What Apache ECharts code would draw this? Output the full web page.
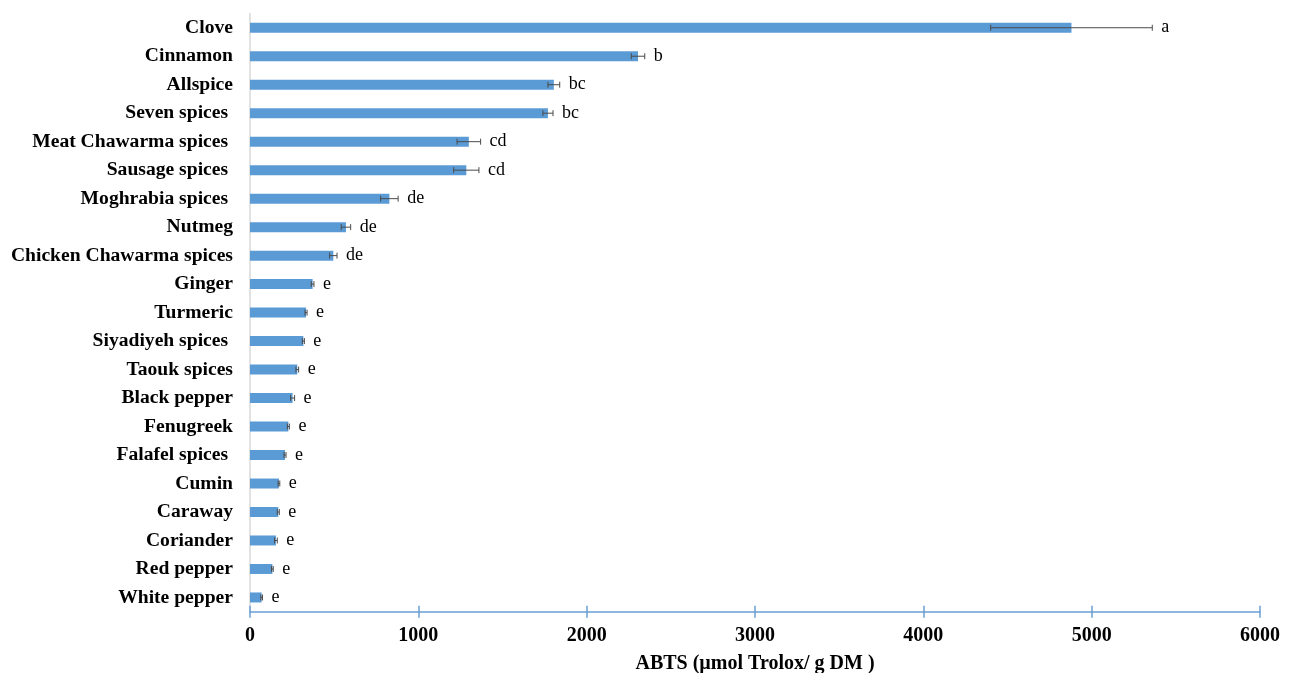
<!DOCTYPE html>
<html>
<head>
<meta charset="utf-8">
<script src="https://cdn.jsdelivr.net/npm/echarts@6/dist/echarts.min.js"></script>
<style>
  html, body { margin: 0; padding: 0; background: #fff; }
  #chart { width: 1289px; height: 673px; }
</style>
</head>
<body>
<div id="chart"></div>
<script>
// Spice names, top to bottom
const categories = [
  'Clove', 'Cinnamon', 'Allspice', 'Seven spices ', 'Meat Chawarma spices ',
  'Sausage spices ', 'Moghrabia spices ', 'Nutmeg', 'Chicken Chawarma spices',
  'Ginger', 'Turmeric', 'Siyadiyeh spices ', 'Taouk spices', 'Black pepper',
  'Fenugreek', 'Falafel spices ', 'Cumin', 'Caraway', 'Coriander',
  'Red pepper', 'White pepper'
];
// ABTS mean values (µmol Trolox / g DM)
const abtsMean = [
  4880, 2305, 1805, 1770, 1300, 1285, 828, 570, 495,
  372, 333, 317, 281, 253, 228, 208, 172, 168, 154, 133, 69
];
// Standard deviations
const abtsSd = [
  480, 40, 35, 30, 70, 75, 52, 28, 22,
  8, 6, 6, 8, 12, 6, 6, 5, 6, 8, 5, 5
];
// Significance letters
const groupLetters = [
  'a', 'b', 'bc', 'bc', 'cd', 'cd', 'de', 'de', 'de',
  'e', 'e', 'e', 'e', 'e', 'e', 'e', 'e', 'e', 'e', 'e', 'e'
];
// Value axis ticks
const xMin = 0, xMax = 6000, xStep = 1000;

const serif = '"Liberation Serif", "Times New Roman", serif';
const chart = echarts.init(document.getElementById('chart'), null, { renderer: 'canvas' });

const errData = abtsMean.map((v, i) => [v, i, abtsSd[i], groupLetters[i]]);

chart.setOption({
  animation: false,
  backgroundColor: '#ffffff',
  grid: {
    left: 250, right: 29, top: 13.5, bottom: 61.3,
    containLabel: false, outerBoundsMode: 'none'
  },
  xAxis: [
    {
      type: 'value', min: xMin, max: xMax, interval: xStep,
      axisLine: { show: true, lineStyle: { color: '#6a9fd4', width: 1.5 } },
      axisTick: { show: true, inside: false, length: 6, lineStyle: { color: '#6a9fd4', width: 1.5 } },
      splitLine: { show: false },
      axisLabel: {
        margin: 14, color: '#000', fontFamily: serif, fontWeight: 'bold', fontSize: 20,
        formatter: function (v) { return String(v); }
      },
      name: 'ABTS (µmol Trolox/ g DM )',
      nameLocation: 'middle', nameGap: 42,
      nameTextStyle: { color: '#000', fontFamily: serif, fontWeight: 'bold', fontSize: 20 }
    },
    {
      // inner half of the crossing tick marks
      type: 'value', min: xMin, max: xMax, interval: xStep, position: 'bottom',
      axisLine: { show: false },
      axisTick: { show: true, inside: true, length: 6, lineStyle: { color: '#6a9fd4', width: 1.5 } },
      axisLabel: { show: false },
      splitLine: { show: false }
    }
  ],
  yAxis: {
    type: 'category', data: categories, inverse: true,
    axisLine: { show: true, lineStyle: { color: '#d9d9d9', width: 1.5 } },
    axisTick: { show: false },
    axisLabel: { margin: 17, color: '#000', fontFamily: serif, fontWeight: 'bold', fontSize: 19.6 }
  },
  series: [
    {
      type: 'bar', data: abtsMean, barWidth: 10,
      itemStyle: { color: '#5b9bd5' }, z: 2
    },
    {
      type: 'custom', data: errData, z: 3,
      encode: { x: 0, y: 1 },
      renderItem: function (params, api) {
        const v = api.value(0), idx = api.value(1), sd = api.value(2);
        const letter = errData[params.dataIndex][3];
        const lo = api.coord([v - sd, idx]);
        const hi = api.coord([v + sd, idx]);
        const cap = 3;
        const style = { stroke: '#4a4a4a', lineWidth: 1 };
        return {
          type: 'group',
          children: [
            { type: 'line', shape: { x1: lo[0], y1: lo[1], x2: hi[0], y2: hi[1] }, style: style },
            { type: 'line', shape: { x1: lo[0], y1: lo[1] - cap, x2: lo[0], y2: lo[1] + cap }, style: style },
            { type: 'line', shape: { x1: hi[0], y1: hi[1] - cap, x2: hi[0], y2: hi[1] + cap }, style: style },
            {
              type: 'text',
              x: hi[0] + 9, y: hi[1],
              style: {
                text: letter, fill: '#000', font: '18px ' + serif,
                textAlign: 'left', textVerticalAlign: 'middle'
              }
            }
          ]
        };
      }
    }
  ]
});
</script>
</body>
</html>
